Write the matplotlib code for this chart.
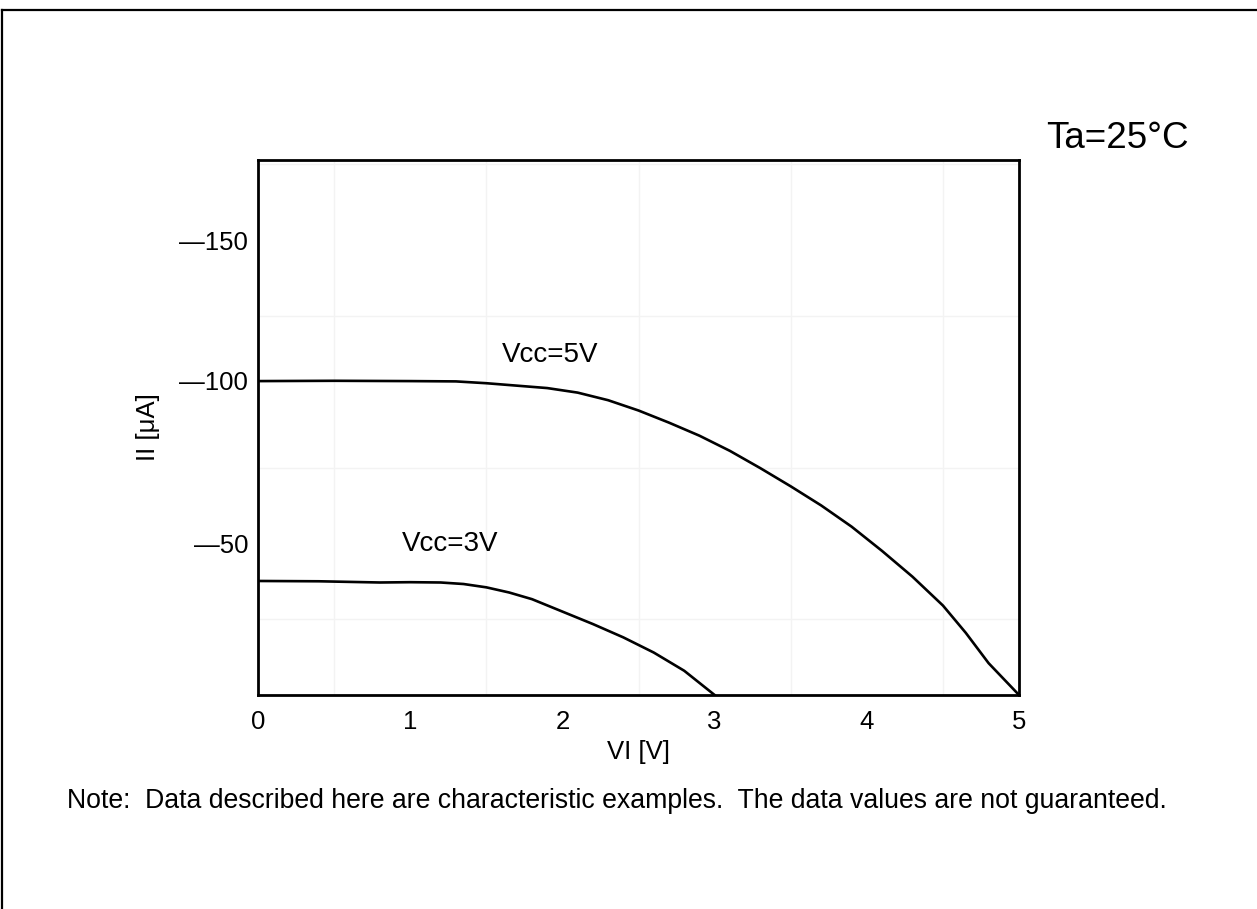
import matplotlib
matplotlib.use("Agg")
import matplotlib.pyplot as plt
from matplotlib.lines import Line2D
from matplotlib.transforms import ScaledTranslation

plt.rcParams['font.family'] = ['Liberation Sans', 'DejaVu Sans']

# Vcc = 5V curve (VI [V], II [uA])
vi_5v = [0.0, 0.5, 1.0, 1.3, 1.5, 1.7, 1.9, 2.1, 2.3, 2.5, 2.7, 2.9, 3.1, 3.3, 3.5,
         3.7, 3.9, 4.1, 4.3, 4.5, 4.65, 4.8, 5.0]
ii_5v = [103.5, 103.6, 103.5, 103.4, 102.8, 102.0, 101.2, 99.7, 97.2, 93.8, 89.8, 85.5, 80.5,
         74.8, 68.8, 62.5, 55.5, 47.5, 39.0, 29.5, 20.5, 10.5, 0.0]

# Vcc = 3V curve
vi_3v = [0.0, 0.4, 0.8, 1.0, 1.2, 1.35, 1.5, 1.65, 1.8, 2.0, 2.2, 2.4, 2.6, 2.8, 3.0]
ii_3v = [37.6, 37.5, 37.1, 37.2, 37.1, 36.6, 35.5, 33.8, 31.6, 27.5, 23.4, 19.0, 14.0, 8.0, 0.0]

y_ticks = [50, 100, 150]
y_tick_labels = ["\u201450", "\u2014100", "\u2014150"]
x_ticks = [0, 1, 2, 3, 4, 5]

fig = plt.figure(figsize=(12.57, 9.09), dpi=100)
ax = fig.add_axes([0.2053, 0.2354, 0.6054, 0.5886])

ax.plot(vi_5v, ii_5v, color='black', linewidth=1.9, solid_joinstyle='round')
ax.plot(vi_3v, ii_3v, color='black', linewidth=1.9, solid_joinstyle='round')

ax.set_xlim(0, 5)
ax.set_ylim(0, 176.4)

# light grid every 0.5 V / 25 uA
ax.set_xticks([i * 0.5 for i in range(11)], minor=True)
ax.set_yticks([i * 25 for i in range(8)], minor=True)
ax.grid(True, which='minor', color='#f3f3f3', linewidth=1.0)
ax.set_axisbelow(True)

ax.set_xticks(x_ticks)
ax.set_xticklabels([str(v) for v in x_ticks])
ax.set_yticks(y_ticks)
ax.set_yticklabels(y_tick_labels)
ax.tick_params(which='both', length=0)
ax.tick_params(axis='x', labelsize=18.5, pad=11)
ax.tick_params(axis='y', labelsize=18.5, pad=7)

# the -100 label sits on the curve level in the original
lbl = ax.get_yticklabels()[1]
lbl.set_transform(lbl.get_transform() + ScaledTranslation(0, 11 / 100, fig.dpi_scale_trans))

for sp in ax.spines.values():
    sp.set_linewidth(2.0)
    sp.set_color('black')

ax.set_xlabel("VI [V]", fontsize=18.5, labelpad=4)
ax.set_ylabel("II [\u03bcA]", fontsize=18.5, labelpad=14)

ax.text(1.92, 112.0, "Vcc=5V", fontsize=20, ha='center', va='center')
ax.text(1.26, 49.8, "Vcc=3V", fontsize=20, ha='center', va='center')

fig.text(1117 / 1257, 1 - 138 / 909, "Ta=25\u00b0C", fontsize=26.5, ha='center', va='center')
fig.text(67 / 1257, 1 - 801 / 909,
         "Note:  Data described here are characteristic examples.  The data values are not guaranteed.",
         fontsize=19.2, ha='left', va='center')

# page frame
fig.add_artist(Line2D([2 / 1257, 2 / 1257], [0, 1 - 9.5 / 909], transform=fig.transFigure,
                      color='black', linewidth=1.6))
fig.add_artist(Line2D([2 / 1257, 1], [1 - 9.5 / 909, 1 - 9.5 / 909], transform=fig.transFigure,
                      color='black', linewidth=1.6))

fig.savefig("out.png", dpi=100)
